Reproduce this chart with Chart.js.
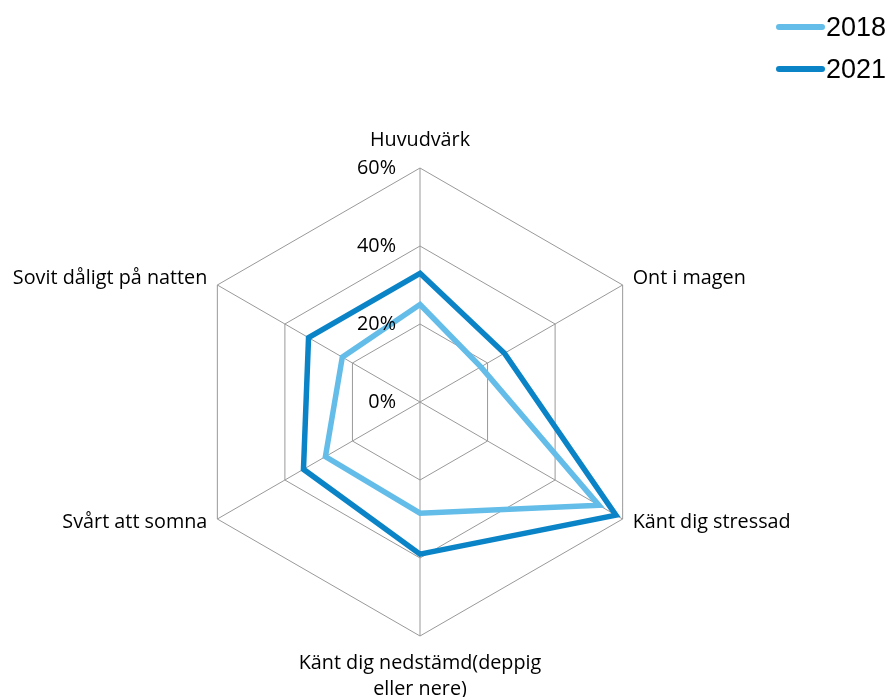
<!DOCTYPE html>
<html>
<head>
<meta charset="utf-8">
<script src="https://cdn.jsdelivr.net/npm/chart.js@4/dist/chart.umd.min.js"></script>
<style>
  html, body { margin: 0; padding: 0; background: #fff; }
  #wrap { position: relative; width: 891px; height: 697px; }
  #legend { position: absolute; left: 776px; top: 6px; font-family: "Liberation Sans", Arial, sans-serif; font-size: 27px; color: #000; }
  .item { display: flex; align-items: center; height: 42px; }
  .swatch { width: 49px; height: 6px; border-radius: 3px; margin-right: 1px; }
</style>
</head>
<body>
<div id="wrap">
  <canvas id="radar" width="891" height="697"></canvas>
  <div id="legend"></div>
</div>
<script>
const categories = ['Huvudvärk', 'Ont i magen', 'Känt dig stressad', ['Känt dig nedstämd(deppig', 'eller nere)'], 'Svårt att somna', 'Sovit dåligt på natten'];
const seriesNames = ['2018', '2021'];
const values2018 = [25, 18, 53, 28.5, 28, 23];
const values2021 = [33, 25, 58, 39, 34.5, 33];
const tickValues = [0, 20, 40, 60];
const colors = ['#63BDE8', '#0A84C6'];

const labelFont = '19.8px "Open Sans", sans-serif';

// draws tick labels left of the vertical axis and the category labels around the web
const labelPlugin = {
    id: 'labelPlugin',
    afterDraw(chart) {
        const scale = chart.scales.r;
        const ctx = chart.ctx;
        ctx.save();
        ctx.font = labelFont;
        ctx.fillStyle = '#000';

        ctx.textAlign = 'right';
        ctx.textBaseline = 'middle';
        tickValues.forEach(v => {
            const d = scale.getDistanceFromCenterForValue(v);
            ctx.fillText(v + '%', scale.xCenter - 24, scale.yCenter - d);
        });

        const lineH = 26;
        categories.forEach((label, i) => {
            const p = scale.getPointPosition(i, scale.drawingArea);
            const lines = Array.isArray(label) ? label : [label];
            let x = p.x, y = p.y;
            if (i === 0) {
                ctx.textAlign = 'center';
                y = p.y - 28;
            } else if (i === 3) {
                ctx.textAlign = 'center';
                y = p.y + 27;
            } else if (i === 1 || i === 2) {
                ctx.textAlign = 'left';
                x = p.x + 10;
                y = p.y + (i === 1 ? -7 : 3);
            } else {
                ctx.textAlign = 'right';
                x = p.x - 10;
                y = p.y + (i === 5 ? -7 : 3);
            }
            ctx.textBaseline = 'middle';
            lines.forEach((t, k) => ctx.fillText(t, x, y + k * lineH));
        });
        ctx.restore();
    }
};

const ctx = document.getElementById('radar').getContext('2d');
new Chart(ctx, {
    type: 'radar',
    data: {
        labels: categories,
        datasets: [
            {
                label: seriesNames[0],
                data: values2018,
                borderColor: colors[0],
                backgroundColor: 'transparent',
                borderWidth: 5.5,
                pointRadius: 0,
                pointHoverRadius: 0,
                fill: false
            },
            {
                label: seriesNames[1],
                data: values2021,
                borderColor: colors[1],
                backgroundColor: 'transparent',
                borderWidth: 5.5,
                pointRadius: 0,
                pointHoverRadius: 0,
                fill: false
            }
        ]
    },
    options: {
        responsive: false,
        animation: false,
        layout: {
            padding: { left: 186, right: 237, top: 168, bottom: 61 }
        },
        plugins: {
            legend: { display: false },
            tooltip: { enabled: false }
        },
        elements: {
            line: { tension: 0, borderJoinStyle: 'miter' }
        },
        scales: {
            r: {
                min: 0,
                max: 60,
                ticks: { display: false, stepSize: 20 },
                grid: { color: '#999999', lineWidth: 1 },
                angleLines: { color: '#999999', lineWidth: 1 },
                pointLabels: { display: false }
            }
        }
    },
    plugins: [labelPlugin]
});

// legend
const legend = document.getElementById('legend');
seriesNames.forEach((name, i) => {
    const item = document.createElement('div');
    item.className = 'item';
    const sw = document.createElement('span');
    sw.className = 'swatch';
    sw.style.background = colors[i];
    const txt = document.createElement('span');
    txt.textContent = name;
    item.appendChild(sw);
    item.appendChild(txt);
    legend.appendChild(item);
});
</script>
</body>
</html>
